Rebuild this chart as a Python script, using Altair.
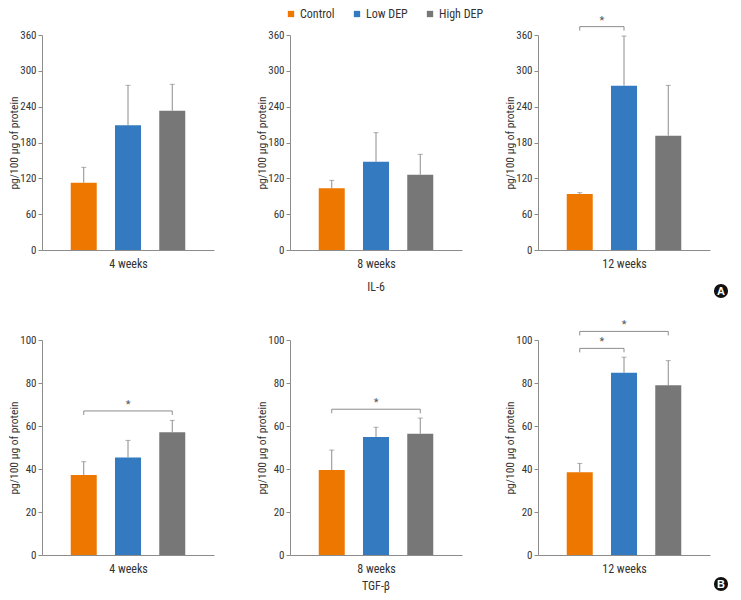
import altair as alt
import pandas as pd

weeks = ["4 weeks", "8 weeks", "12 weeks"]
groups = ["Control", "Low DEP", "High DEP"]
colors = ["#EE7700", "#337AC1", "#777777"]
cytokines = ["IL-6", "TGF-β"]
panel_tags = ["A", "B"]

# mean and SD per week (rows) and group (columns)
il6_mean = [[112.7, 208.7, 233.2], [103.2, 147.9, 126.1], [93.8, 275.1, 191.5]]
il6_sd = [[25.7, 67.0, 44.2], [13.4, 48.6, 34.1], [2.2, 83.2, 84.2]]
tgf_mean = [[37.2, 45.4, 57.1], [39.5, 54.9, 56.4], [38.5, 84.8, 78.9]]
tgf_sd = [[6.2, 7.9, 5.5], [9.3, 4.5, 7.3], [4.1, 7.2, 11.5]]

il6_ticks = [0, 60, 120, 180, 240, 300, 360]
tgf_ticks = [0, 20, 40, 60, 80, 100]

# significance brackets
sig_cyto = ["IL-6", "TGF-β", "TGF-β", "TGF-β", "TGF-β"]
sig_week = ["12 weeks", "4 weeks", "8 weeks", "12 weeks", "12 weeks"]
sig_from = ["Control", "Control", "Control", "Control", "Control"]
sig_to = ["Low DEP", "High DEP", "High DEP", "Low DEP", "High DEP"]
sig_level = [374.0, 67.0, 67.8, 96.1, 104.0]

FONT = "Liberation Sans Narrow, Roboto Condensed, DejaVu Sans Condensed, sans-serif"
W, H = 172, 215
AX = "#8c8c8c"
TXT = "#333333"

means = {"IL-6": il6_mean, "TGF-β": tgf_mean}
sds = {"IL-6": il6_sd, "TGF-β": tgf_sd}
ticks = {"IL-6": il6_ticks, "TGF-β": tgf_ticks}
label_off = [37, 31]
tag_off = [41, 29]

sig = pd.DataFrame({"cyto": sig_cyto, "week": sig_week, "from": sig_from,
                    "to": sig_to, "level": sig_level})
sig["x1"] = sig["from"].map(groups.index)
sig["x2"] = sig["to"].map(groups.index)
sig["mid"] = (sig["x1"] + sig["x2"]) / 2


def panel(ci, wi):
    cyto = cytokines[ci]
    df = pd.DataFrame({"group": groups, "idx": list(range(3)),
                       "mean": means[cyto][wi], "sd": sds[cyto][wi]})
    df["top"] = df["mean"] + df["sd"]
    tk = ticks[cyto]
    xax = alt.Axis(labels=False, ticks=False, grid=False, domainColor=AX,
                   title=weeks[wi], titleFontSize=12, titleFontWeight="normal",
                   titleColor=TXT, titlePadding=8)
    yax = alt.Axis(values=tk, grid=False, domainColor=AX, tickColor=AX, tickSize=4,
                   labelPadding=2, labelFontSize=11, labelColor=TXT,
                   title="pg/100 μg of protein", titleFontSize=11.5,
                   titleFontWeight="normal", titleColor=TXT, titlePadding=0)
    xs = alt.Scale(domain=[-0.83, 2.83], nice=False, zero=False)
    ys = alt.Scale(domain=[tk[0], tk[-1]], nice=False)

    def X(f):
        return alt.X(f, type="quantitative", scale=xs, axis=xax)

    def Y(f):
        return alt.Y(f, type="quantitative", scale=ys, axis=yax)

    base = alt.Chart(df)
    bars = base.mark_bar(width=26, orient="vertical").encode(
        x=X("idx"), y=Y("mean"),
        color=alt.Color("group:N", scale=alt.Scale(domain=groups, range=colors),
                        legend=alt.Legend(title=None, orient="none", legendX=243, legendY=-27,
                                          direction="horizontal", columns=3,
                                          symbolType="square", symbolSize=40,
                                          symbolStrokeWidth=0, labelFontSize=12,
                                          labelColor=TXT, labelOffset=3, columnPadding=16)))
    err = base.mark_rule(color=AX, strokeWidth=1).encode(x=X("idx"), y=Y("mean"), y2="top:Q")
    cap = base.mark_tick(color=AX, thickness=1, size=5, orient="horizontal").encode(
        x=X("idx"), y=Y("top"))
    layers = [bars, err, cap]

    sdf = sig[(sig["cyto"] == cyto) & (sig["week"] == weeks[wi])]
    if len(sdf):
        ends = pd.DataFrame({"x": list(sdf["x1"]) + list(sdf["x2"]),
                             "level": list(sdf["level"]) * 2})
        layers.append(alt.Chart(sdf).mark_rule(color=AX).encode(
            x=X("x1"), x2="x2:Q", y=Y("level")))
        layers.append(alt.Chart(ends).mark_rule(color=AX, y2Offset=4).encode(
            x=X("x"), y=Y("level"), y2="level:Q"))
        layers.append(alt.Chart(sdf).mark_text(text="*", fontSize=11, color="#555555",
                                               baseline="alphabetic", dy=-3).encode(
            x=X("mid"), y=Y("level")))
    if wi == 1:
        layers.append(alt.Chart(pd.DataFrame({"label": [cyto]})).mark_text(
            fontSize=12, color=TXT, baseline="middle").encode(
            x=alt.value(W / 2), y=alt.value(H + label_off[ci]), text="label:N"))
    if wi == 2:
        tdf = pd.DataFrame({"tag": [panel_tags[ci]]})
        layers.append(alt.Chart(tdf).mark_circle(size=200, color="#111111", opacity=1).encode(
            x=alt.value(W + 11), y=alt.value(H + tag_off[ci])))
        layers.append(alt.Chart(tdf).mark_text(fontSize=11, fontWeight="bold", color="white",
                                               baseline="middle", font="Liberation Sans, Arial, sans-serif").encode(
            x=alt.value(W + 11), y=alt.value(H + tag_off[ci] + 0.5), text="tag:N"))
    return alt.layer(*layers).properties(width=W, height=H)


charts = [panel(ci, wi) for ci in range(2) for wi in range(3)]
chart = alt.concat(*charts, columns=3, spacing={"row": 90, "column": 76},
                   bounds="flush", padding=0).configure(font=FONT).configure_view(
    stroke="transparent")

chart.save("out.html", embed_options={"renderer": "svg", "actions": False})
